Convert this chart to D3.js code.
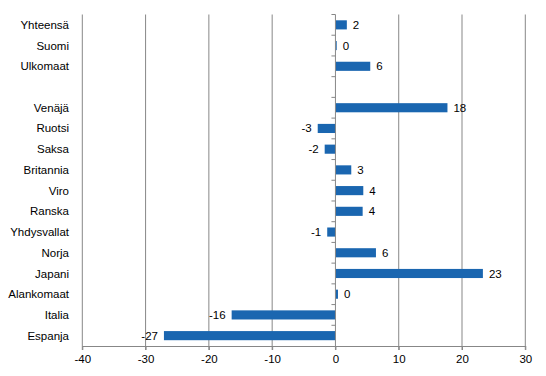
<!DOCTYPE html>
<html>
<head>
<meta charset="utf-8">
<script src="https://cdn.jsdelivr.net/npm/d3@7"></script>
<style>
    body { margin: 0; background: #fff; }
    svg { display: block; font-family: "Liberation Sans", Arial, sans-serif; }
</style>
</head>
<body>
<div id="chart"></div>
<script>
// Data
let categories = ["Yhteensä", "Suomi", "Ulkomaat", " ", "Venäjä", "Ruotsi", "Saksa", "Britannia",
    "Viro", "Ranska", "Yhdysvallat", "Norja", "Japani", "Alankomaat", "Italia", "Espanja"];
let values = [1.8, 0.2, 5.5, null, 17.7, -2.8, -1.7, 2.5, 4.4, 4.3, -1.3, 6.4, 23.3, 0.4, -16.4, -27.1];
let xTicks = [-40, -30, -20, -10, 0, 10, 20, 30];

let data = categories.map((c, i) => ({category: c, value: values[i]}));

let width = 546, height = 376;
let plot = {left: 82.3, right: 525.3, top: 14.5, bottom: 346};
let gridColor = "#878787";
let barColor = "#1a66b0";
let fontSize = 11.5;

let svg = d3.select("#chart").append("svg")
    .attr("width", width)
    .attr("height", height);

let x = d3.scaleLinear()
    .domain([-40, 30])
    .range([plot.left, plot.right]);

// rows (no padding) for the tick marks, bars inside them
let rows = d3.scaleBand()
    .domain(categories)
    .range([plot.top, plot.bottom]);

let y = d3.scaleBand()
    .domain(categories)
    .range([plot.top, plot.bottom])
    .paddingInner(0.56)
    .paddingOuter(0.28);

// vertical gridlines
svg.append("g")
    .selectAll("line")
    .data(xTicks.filter(d => d !== 0))
    .enter()
    .append("line")
    .attr("x1", d => x(d))
    .attr("x2", d => x(d))
    .attr("y1", plot.top)
    .attr("y2", plot.bottom + 4)
    .attr("stroke", gridColor)
    .attr("stroke-width", 1);

// x axis
let xAxis = svg.append("g")
    .attr("transform", "translate(0," + plot.bottom + ")")
    .call(d3.axisBottom(x).tickValues(xTicks).tickFormat(d => String(d))
        .tickSize(4).tickSizeOuter(0).tickPadding(5));
xAxis.select(".domain").attr("stroke", gridColor);
xAxis.selectAll(".tick line").attr("stroke", gridColor);
xAxis.selectAll(".tick text")
    .attr("fill", "#000")
    .attr("font-size", fontSize)
    .attr("font-family", "Liberation Sans, Arial, sans-serif");

// bars
svg.append("g")
    .selectAll("rect")
    .data(data.filter(d => d.value !== null))
    .enter()
    .append("rect")
    .attr("x", d => x(Math.min(0, d.value)))
    .attr("y", d => y(d.category))
    .attr("width", d => Math.abs(x(d.value) - x(0)))
    .attr("height", y.bandwidth())
    .attr("fill", barColor);

// zero axis with category tick marks
let zeroAxis = svg.append("g")
    .attr("transform", "translate(" + x(0) + ",0)");
zeroAxis.append("line")
    .attr("y1", plot.top)
    .attr("y2", plot.bottom + 4)
    .attr("stroke", gridColor);
zeroAxis.selectAll(".cat-tick")
    .data(categories)
    .enter()
    .append("line")
    .attr("class", "cat-tick")
    .attr("x1", -4)
    .attr("x2", 0)
    .attr("y1", d => rows(d))
    .attr("y2", d => rows(d))
    .attr("stroke", gridColor);

// category labels
svg.append("g")
    .selectAll("text")
    .data(categories)
    .enter()
    .append("text")
    .attr("x", 69)
    .attr("y", d => rows(d) + rows.bandwidth() / 2)
    .attr("dy", "0.35em")
    .attr("text-anchor", "end")
    .attr("font-size", fontSize)
    .text(d => d.trim());

// value labels
svg.append("g")
    .selectAll("text")
    .data(data.filter(d => d.value !== null))
    .enter()
    .append("text")
    .attr("x", d => d.value >= 0 ? x(d.value) + 6 : x(d.value) - 6)
    .attr("y", d => y(d.category) + y.bandwidth() / 2)
    .attr("dy", "0.35em")
    .attr("text-anchor", d => d.value >= 0 ? "start" : "end")
    .attr("font-size", fontSize)
    .text(d => Math.round(d.value));
</script>
</body>
</html>
